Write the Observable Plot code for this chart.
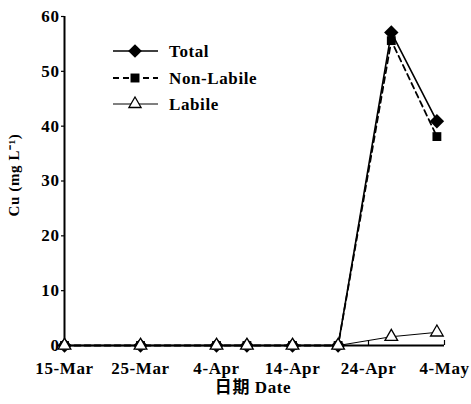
<!DOCTYPE html>
<html><head><meta charset="utf-8">
<script src="https://cdn.jsdelivr.net/npm/d3@7"></script>
<script src="https://cdn.jsdelivr.net/npm/@observablehq/plot@0.6"></script>
<style>
body{margin:0;background:#fff;}
#wrap{position:relative;width:471px;height:404px;}
#overlay{position:absolute;left:0;top:0;pointer-events:none;}
</style></head><body><div id="wrap"></div>
<script>
const dates = ["2005-03-15","2005-03-25","2005-04-04","2005-04-08","2005-04-14","2005-04-20","2005-04-27","2005-05-03"];
const total = [0,0,0,0,0,0,57.1,40.9];
const nonLabile = [0,0,0,0,0,0,55.6,38.1];
const labile = [0,0,0,0,0,0,1.6,2.4];
const seriesNames = ["Total","Non-Labile","Labile"];
const tickDates = ["2005-03-15","2005-03-25","2005-04-04","2005-04-14","2005-04-24","2005-05-04"];
const tickLabels = ["15-Mar","25-Mar","4-Apr","14-Apr","24-Apr","4-May"];
const yTicks = [0,10,20,30,40,50,60];
const xTitle = "日期 Date";
const yTitle = "Cu (mg L⁻¹)";

const parse = d3.utcParse("%Y-%m-%d");
const rows = s => dates.map((d,i) => ({date: parse(d), value: s[i]}));
const tTot = rows(total), tNL = rows(nonLabile), tLab = rows(labile);
const tickD = tickDates.map(parse);
const fmt = d => tickLabels[tickD.findIndex(t => +t === +d)];
const FONT = "'Liberation Serif','Noto Sans CJK SC',serif";

const chart = Plot.plot({
  width: 471, height: 404,
  marginLeft: 64, marginRight: 27, marginTop: 16, marginBottom: 59,
  style: {fontFamily: FONT, fontSize: "17px", fontWeight: "bold", letterSpacing: "0.6px", color: "#000", background: "#fff", overflow: "visible"},
  x: {type: "utc", domain: [tickD[0], tickD[tickD.length - 1]]},
  y: {domain: [0, 60]},
  marks: [
    Plot.ruleY([0], {strokeWidth: 2}),
    Plot.ruleX([tickD[0]], {strokeWidth: 2}),
    Plot.axisX({ticks: tickD, tickFormat: fmt, tickSize: 5, dy: -5, tickPadding: 16, strokeWidth: 1.2, label: null}),
    Plot.axisY({ticks: yTicks, tickSize: 3, tickPadding: 2, strokeWidth: 1.2, label: null}),
    Plot.line(tLab, {x: "date", y: "value", stroke: "black", strokeWidth: 1}),
    Plot.line(tNL, {x: "date", y: "value", stroke: "black", strokeWidth: 1.8, strokeDasharray: "6,4"}),
    Plot.line(tTot, {x: "date", y: "value", stroke: "black", strokeWidth: 1.6}),
    Plot.dot(tTot, {x: "date", y: "value", symbol: "diamond2", fill: "black", r: 6.5}),
    Plot.dot(tNL, {x: "date", y: "value", symbol: "square", fill: "black", r: 5}),
    Plot.dot(tLab, {x: "date", y: "value", symbol: "triangle", fill: "white", stroke: "black", strokeWidth: 1.3, r: 4.7})
  ]
});
const wrap = document.getElementById("wrap");
wrap.appendChild(chart);

// Overlay: legend and axis titles
const ov = d3.select(wrap).append("svg").attr("id", "overlay").attr("width", 471).attr("height", 404)
  .style("font-family", FONT).style("font-weight", "bold").style("letter-spacing", "0.6px");
const ys = [51, 78, 104];
const styles = [
  {dash: null, w: 1.6, sym: d3.symbolDiamond2, size: 120, fill: "black", stroke: "none"},
  {dash: "6,4", w: 1.8, sym: d3.symbolSquare, size: 80, fill: "black", stroke: "none"},
  {dash: null, w: 1, sym: d3.symbolTriangle, size: 64, fill: "white", stroke: "black"}
];
seriesNames.forEach((name, i) => {
  const s = styles[i], y = ys[i];
  ov.append("line").attr("x1", 113).attr("x2", 158).attr("y1", y).attr("y2", y)
    .attr("stroke", "black").attr("stroke-width", s.w).attr("stroke-dasharray", s.dash);
  ov.append("path").attr("d", d3.symbol(s.sym, s.size)()).attr("transform", `translate(135,${y})`)
    .attr("fill", s.fill).attr("stroke", s.stroke).attr("stroke-width", 1.3);
  ov.append("text").attr("x", 169).attr("y", y).attr("dy", "0.35em").style("font-size", "17px").text(name);
});
ov.append("text").attr("x", 253).attr("y", 393).attr("text-anchor", "middle").style("font-size", "17px").text(xTitle);
ov.append("text").attr("transform", "translate(19,175) rotate(-90)").attr("text-anchor", "middle")
  .style("font-size", "15px").text(yTitle);
</script></body></html>
